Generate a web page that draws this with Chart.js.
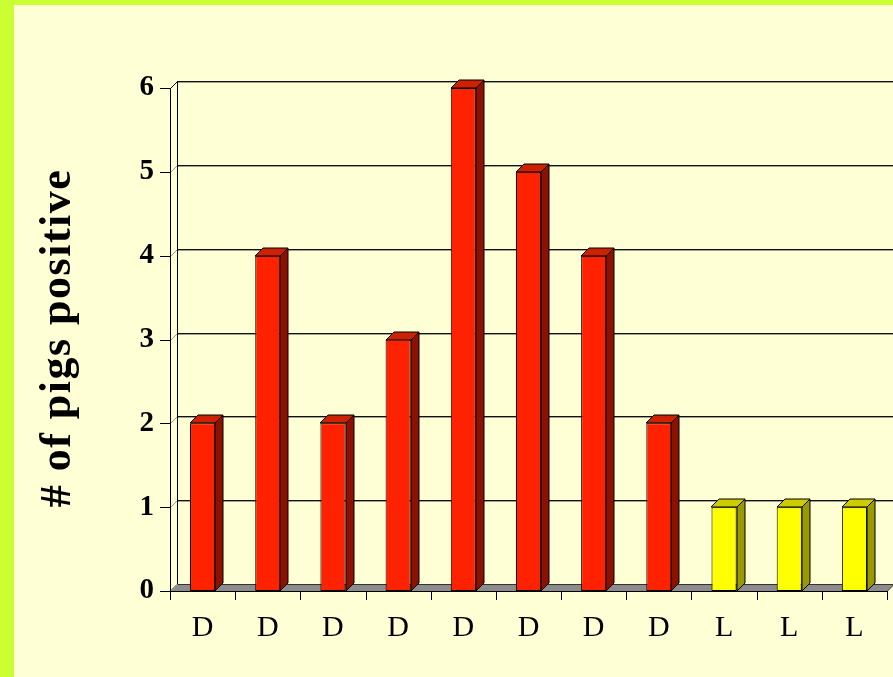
<!DOCTYPE html>
<html>
<head>
<meta charset="utf-8">
<script src="https://cdn.jsdelivr.net/npm/chart.js@4"></script>
<style>
html,body{margin:0;padding:0;background:#FFFFD6;overflow:hidden}
#frame{position:absolute;left:0;top:0;width:879px;height:672px;border-top:5px solid #CCFF33;border-left:14px solid #CCFF33}
#pigs{position:absolute;left:0;top:0}
</style>
</head>
<body>
<div id="frame"></div>
<canvas id="pigs" width="893" height="677"></canvas>
<script>
// groups along the x axis (D = red, L = yellow)
const groups = ["D","D","D","D","D","D","D","D","L","L","L"]
const pigsPositive = [2,4,2,3,6,5,4,2,1,1,1]
const yTicks = [0,1,2,3,4,5,6]
const yTitle = "# of pigs positive"

const faceColors = {D:"#FF2200", L:"#FFFF00"}
const topColors = {D:"#CC2200", L:"#CCCC00"}
const sideColors = {D:"#8C1100", L:"#999900"}

const DEPTH = 7      // wall depth
const BAR_DEPTH = 8  // bar depth

const walls3d = {
  id:"walls3d",
  beforeDatasetsDraw(chart){
    const ctx = chart.ctx
    const x = chart.scales.x, y = chart.scales.y
    const L = chart.chartArea.left, R = chart.chartArea.right
    const y0 = y.getPixelForValue(0)
    const W = chart.width

    ctx.save()
    // floor
    ctx.beginPath()
    ctx.moveTo(L, y0+0.5)
    ctx.lineTo(R, y0+0.5)
    ctx.lineTo(R+DEPTH, y0-DEPTH+0.5)
    ctx.lineTo(L+DEPTH, y0-DEPTH+0.5)
    ctx.closePath()
    ctx.fillStyle = "#8C8C8C"
    ctx.fill()
    ctx.strokeStyle = "#333"
    ctx.lineWidth = 1
    ctx.stroke()

    // back wall grid lines
    yTicks.forEach(v=>{
      if(v===0) return
      const py = Math.round(y.getPixelForValue(v)) - DEPTH + 0.5
      ctx.strokeStyle = "#111"
      ctx.lineWidth = 1
      ctx.beginPath(); ctx.moveTo(L+DEPTH, py); ctx.lineTo(W, py); ctx.stroke()
      ctx.strokeStyle = "#A0A090"
      ctx.beginPath(); ctx.moveTo(L+DEPTH, py+1); ctx.lineTo(W, py+1); ctx.stroke()
    })

    // side wall diagonals
    yTicks.forEach(v=>{
      const py = Math.round(y.getPixelForValue(v)) + 0.5
      ctx.strokeStyle = "#999"
      ctx.beginPath(); ctx.moveTo(L+0.5, py); ctx.lineTo(L+DEPTH+0.5, py-DEPTH); ctx.stroke()
    })

    const top = Math.round(y.getPixelForValue(6))
    ctx.strokeStyle = "#000"
    ctx.lineWidth = 1
    // back wall left edge
    ctx.beginPath(); ctx.moveTo(L+DEPTH+0.5, top-DEPTH); ctx.lineTo(L+DEPTH+0.5, y0-DEPTH); ctx.stroke()
    // front y axis
    ctx.beginPath(); ctx.moveTo(L+0.5, top); ctx.lineTo(L+0.5, y0+1); ctx.stroke()
    ctx.beginPath(); ctx.moveTo(L+0.5, top+0.5); ctx.lineTo(L+DEPTH+0.5, top-DEPTH+0.5); ctx.stroke()
    // y tick marks
    yTicks.forEach(v=>{
      const py = Math.round(y.getPixelForValue(v)) + 0.5
      ctx.beginPath(); ctx.moveTo(L-10, py); ctx.lineTo(L, py); ctx.stroke()
    })
    // x axis line and tick marks
    ctx.beginPath(); ctx.moveTo(L, y0+0.5); ctx.lineTo(R, y0+0.5); ctx.stroke()
    const step = (R-L)/groups.length
    for(let i=0;i<=groups.length;i++){
      const px = Math.round(L + i*step) + 0.5
      ctx.beginPath(); ctx.moveTo(px, y0); ctx.lineTo(px, y0+9); ctx.stroke()
    }

    // y axis title
    ctx.translate(70, 338)
    ctx.rotate(-Math.PI/2)
    ctx.font = "bold 44px 'Liberation Serif'"
    ctx.letterSpacing = "1.5px"
    ctx.fillStyle = "#000"
    ctx.textAlign = "center"
    ctx.textBaseline = "alphabetic"
    ctx.fillText(yTitle, 0, 0)
    ctx.restore()
  },
  afterDatasetsDraw(chart){
    const ctx = chart.ctx
    const meta = chart.getDatasetMeta(0)
    ctx.save()
    ctx.strokeStyle = "#000"
    ctx.lineWidth = 1
    meta.data.forEach((bar,i)=>{
      const g = groups[i]
      const l = Math.round(bar.x - bar.width/2)
      const r = Math.round(bar.x + bar.width/2)
      const t = Math.round(bar.y)
      const b = Math.round(bar.base)
      // side
      ctx.beginPath()
      ctx.moveTo(r, t); ctx.lineTo(r+BAR_DEPTH, t-BAR_DEPTH)
      ctx.lineTo(r+BAR_DEPTH, b-BAR_DEPTH); ctx.lineTo(r, b); ctx.closePath()
      ctx.fillStyle = sideColors[g]; ctx.fill(); ctx.stroke()
      // top
      ctx.beginPath()
      ctx.moveTo(l, t); ctx.lineTo(l+BAR_DEPTH, t-BAR_DEPTH)
      ctx.lineTo(r+BAR_DEPTH, t-BAR_DEPTH); ctx.lineTo(r, t); ctx.closePath()
      ctx.fillStyle = topColors[g]; ctx.fill(); ctx.stroke()
    })
    ctx.restore()
  }
}

new Chart(document.getElementById("pigs"),{
  type:"bar",
  data:{
    labels: groups,
    datasets:[{
      data: pigsPositive,
      backgroundColor: groups.map(g=>faceColors[g]),
      borderColor:"#000",
      borderWidth:1,
      borderSkipped:false,
      categoryPercentage:1,
      barPercentage:0.385
    }]
  },
  options:{
    responsive:false,
    animation:false,
    events:[],
    layout:{padding:{top:88,right:6,left:0,bottom:0}},
    plugins:{legend:{display:false},tooltip:{enabled:false}},
    scales:{
      x:{
        grid:{display:false,drawTicks:false},
        border:{display:false},
        ticks:{color:"#000",font:{family:"'Liberation Serif'",size:30},padding:19,maxRotation:0},
        afterFit(s){ s.height = 86 }
      },
      y:{
        min:0,max:6,
        grid:{display:false,drawTicks:false},
        border:{display:false},
        ticks:{stepSize:1,color:"#000",font:{family:"'Liberation Serif'",size:29,weight:"bold"},padding:16},
        afterFit(s){ s.width = 170 }
      }
    }
  },
  plugins:[walls3d]
})
</script>
</body>
</html>
